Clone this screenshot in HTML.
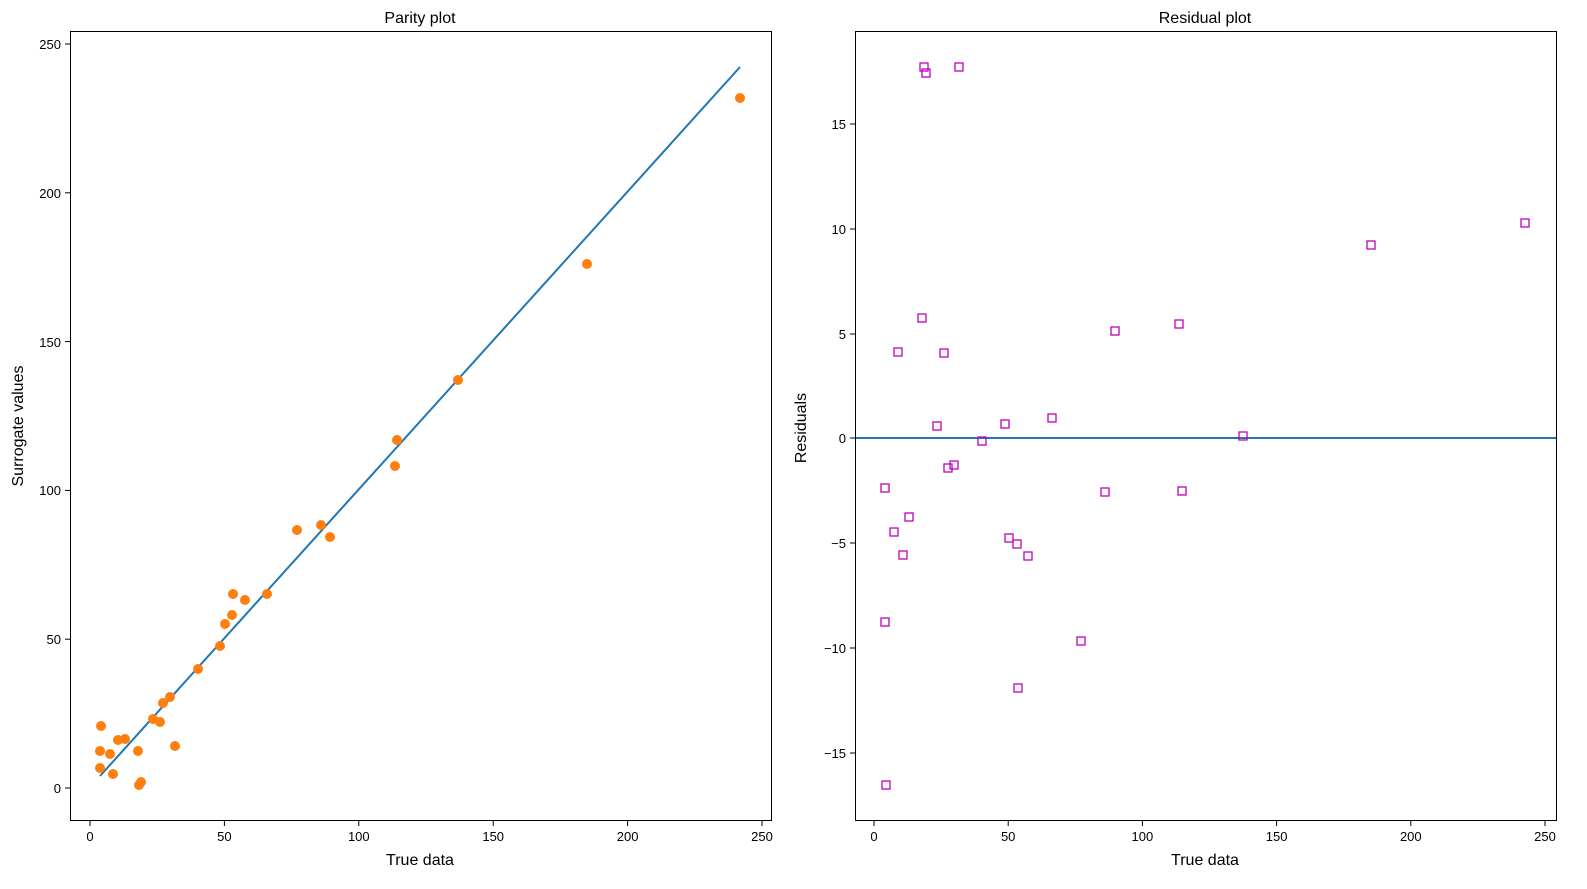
<!DOCTYPE html>
<html><head><style>body{margin:0;background:#fff}svg{display:block}text{font-family:"Liberation Sans","DejaVu Sans",sans-serif}</style></head>
<body>
<svg width="1587" height="889" xmlns="http://www.w3.org/2000/svg">
<rect width="1587" height="889" fill="#fff"/>
<!-- Left -->
<g>
<text x="420" y="23" font-size="16" text-anchor="middle">Parity plot</text>
<line x1="100" y1="776" x2="740" y2="67" stroke="#1f77b4" stroke-width="2"/>
<g fill="#ff7f0e">
<circle cx="740" cy="98" r="5"/><circle cx="587" cy="264" r="5"/><circle cx="458" cy="380" r="5"/><circle cx="397" cy="440" r="5"/><circle cx="395" cy="466" r="5"/><circle cx="297" cy="530" r="5"/><circle cx="321" cy="525" r="5"/><circle cx="330" cy="537" r="5"/><circle cx="267" cy="594" r="5"/><circle cx="233" cy="594" r="5"/><circle cx="245" cy="600" r="5"/><circle cx="232" cy="615" r="5"/><circle cx="225" cy="624" r="5"/><circle cx="220" cy="646" r="5"/><circle cx="198" cy="669" r="5"/><circle cx="170" cy="697" r="5"/><circle cx="163" cy="703" r="5"/><circle cx="153" cy="719" r="5"/><circle cx="160" cy="722" r="5"/><circle cx="175" cy="746" r="5"/><circle cx="138" cy="751" r="5"/><circle cx="125" cy="739" r="5"/><circle cx="118" cy="740" r="5"/><circle cx="110" cy="754" r="5"/><circle cx="101" cy="726" r="5"/><circle cx="100" cy="751" r="5"/><circle cx="100" cy="768" r="5"/><circle cx="113" cy="774" r="5"/><circle cx="141" cy="782" r="5"/><circle cx="139" cy="785" r="5"/>
</g>
<rect x="70.5" y="31.5" width="701" height="789" fill="none" stroke="#000" stroke-width="1"/>
<g stroke="#000">
<line x1="90" y1="821" x2="90" y2="826"/><line x1="224.4" y1="821" x2="224.4" y2="826"/><line x1="358.8" y1="821" x2="358.8" y2="826"/><line x1="493.2" y1="821" x2="493.2" y2="826"/><line x1="627.6" y1="821" x2="627.6" y2="826"/><line x1="762" y1="821" x2="762" y2="826"/>
<line x1="65" y1="788" x2="70" y2="788"/><line x1="65" y1="639.2" x2="70" y2="639.2"/><line x1="65" y1="490.4" x2="70" y2="490.4"/><line x1="65" y1="341.6" x2="70" y2="341.6"/><line x1="65" y1="192.8" x2="70" y2="192.8"/><line x1="65" y1="44" x2="70" y2="44"/>
</g>
<g font-size="13" text-anchor="middle">
<text x="90" y="841">0</text><text x="224.4" y="841">50</text><text x="358.8" y="841">100</text><text x="493.2" y="841">150</text><text x="627.6" y="841">200</text><text x="762" y="841">250</text>
</g>
<g font-size="13" text-anchor="end">
<text x="61" y="793">0</text><text x="61" y="644">50</text><text x="61" y="495">100</text><text x="61" y="347">150</text><text x="61" y="198">200</text><text x="61" y="49">250</text>
</g>
<text x="420" y="865" font-size="16" text-anchor="middle">True data</text>
<text x="23" y="426" font-size="16" text-anchor="middle" transform="rotate(-90 23 426)">Surrogate values</text>
</g>
<!-- Right -->
<g>
<text x="1205" y="23" font-size="16" text-anchor="middle">Residual plot</text>
<line x1="855" y1="438" x2="1556" y2="438" stroke="#1f77b4" stroke-width="2"/>
<g fill="none" stroke="#bf00bf" stroke-width="1.3">
<rect x="920" y="63" width="8" height="8"/><rect x="922" y="69" width="8" height="8"/><rect x="955" y="63" width="8" height="8"/><rect x="1521" y="219" width="8" height="8"/><rect x="1367" y="241" width="8" height="8"/><rect x="918" y="314" width="8" height="8"/><rect x="894" y="348" width="8" height="8"/><rect x="940" y="349" width="8" height="8"/><rect x="1111" y="327" width="8" height="8"/><rect x="1175" y="320" width="8" height="8"/><rect x="933" y="422" width="8" height="8"/><rect x="1001" y="420" width="8" height="8"/><rect x="1048" y="414" width="8" height="8"/><rect x="978" y="437" width="8" height="8"/><rect x="1239" y="432" width="8" height="8"/><rect x="944" y="464" width="8" height="8"/><rect x="950" y="461" width="8" height="8"/><rect x="881" y="484" width="8" height="8"/><rect x="1101" y="488" width="8" height="8"/><rect x="1178" y="487" width="8" height="8"/><rect x="905" y="513" width="8" height="8"/><rect x="890" y="528" width="8" height="8"/><rect x="899" y="551" width="8" height="8"/><rect x="1005" y="534" width="8" height="8"/><rect x="1013" y="540" width="8" height="8"/><rect x="1024" y="552" width="8" height="8"/><rect x="881" y="618" width="8" height="8"/><rect x="1077" y="637" width="8" height="8"/><rect x="1014" y="684" width="8" height="8"/><rect x="882" y="781" width="8" height="8"/>
</g>
<rect x="855.5" y="31.5" width="701" height="789" fill="none" stroke="#000" stroke-width="1"/>
<g stroke="#000">
<line x1="874" y1="821" x2="874" y2="826"/><line x1="1008.2" y1="821" x2="1008.2" y2="826"/><line x1="1142.4" y1="821" x2="1142.4" y2="826"/><line x1="1276.6" y1="821" x2="1276.6" y2="826"/><line x1="1410.8" y1="821" x2="1410.8" y2="826"/><line x1="1545" y1="821" x2="1545" y2="826"/>
<line x1="850" y1="124" x2="855" y2="124"/><line x1="850" y1="229" x2="855" y2="229"/><line x1="850" y1="334" x2="855" y2="334"/><line x1="850" y1="438" x2="855" y2="438"/><line x1="850" y1="543" x2="855" y2="543"/><line x1="850" y1="648" x2="855" y2="648"/><line x1="850" y1="753" x2="855" y2="753"/>
</g>
<g font-size="13" text-anchor="middle">
<text x="874" y="841">0</text><text x="1008.2" y="841">50</text><text x="1142.4" y="841">100</text><text x="1276.6" y="841">150</text><text x="1410.8" y="841">200</text><text x="1545" y="841">250</text>
</g>
<g font-size="13" text-anchor="end">
<text x="846" y="129">15</text><text x="846" y="234">10</text><text x="846" y="339">5</text><text x="846" y="443">0</text><text x="846" y="548">−5</text><text x="846" y="653">−10</text><text x="846" y="758">−15</text>
</g>
<text x="1205" y="865" font-size="16" text-anchor="middle">True data</text>
<text x="806" y="428" font-size="16" text-anchor="middle" transform="rotate(-90 806 428)">Residuals</text>
</g>
</svg>
</body></html>
